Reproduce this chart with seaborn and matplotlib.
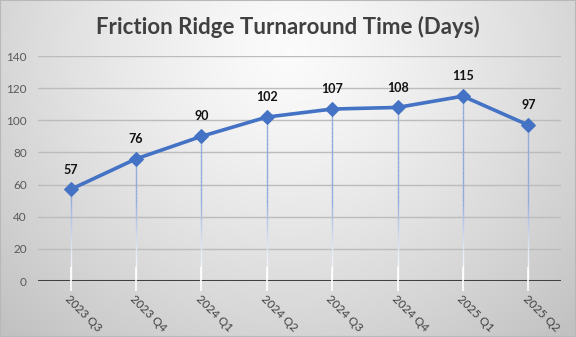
import numpy as np
import pandas as pd
import matplotlib
matplotlib.use("Agg")
import matplotlib.pyplot as plt
from matplotlib.collections import LineCollection
import seaborn as sns

quarters = ["2023 Q3", "2023 Q4", "2024 Q1", "2024 Q2", "2024 Q3", "2024 Q4", "2025 Q1", "2025 Q2"]
days = [57, 76, 90, 102, 107, 108, 115, 97]
y_ticks = [0, 20, 40, 60, 80, 100, 120, 140]
title = "Friction Ridge Turnaround Time (Days)"

df = pd.DataFrame({"quarter": quarters, "days": days})

sns.set_theme(style="white")
plt.rcParams["font.family"] = ["Lato", "DejaVu Sans"]

W, H = 576, 337
fig = plt.figure(figsize=(W / 100, H / 100), dpi=100)

# radial grey gradient behind everything
bg = fig.add_axes([0, 0, 1, 1], zorder=-10)
yy, xx = np.mgrid[0:H, 0:W]
cx, cy = W * 0.5, H * 0.15
r = np.sqrt(((xx - cx) / (W * 0.62)) ** 2 + ((yy - cy) / (H * 1.0)) ** 2)
shade = np.clip(0.985 - 0.19 * r ** 1.3, 0.76, 1.0)
bg.imshow(np.dstack([shade] * 3), aspect="auto", extent=[0, 1, 0, 1], origin="upper")
bg.set_axis_off()
bg.add_patch(plt.Rectangle((0, 0), 1, 1, transform=bg.transAxes, fill=False,
                           edgecolor="#b8b8b8", linewidth=1.5))

ax = fig.add_axes([38 / W, 1 - 281 / H, (561 - 38) / W, (281 - 56) / H])
ax.set_facecolor("none")

line_color = "#4472C4"

# fading drop lines from each point down to the axis
c_top = np.array(matplotlib.colors.to_rgb("#8fa9dc"))
c_bot = np.array([1.0, 1.0, 1.0])
for i, v in enumerate(days):
    n = 40
    ys = np.linspace(0, v, n + 1)
    segs = [[(i, ys[k]), (i, ys[k + 1])] for k in range(n)]
    frac = np.clip((ys[:-1] + ys[1:]) / 2 / 50.0, 0, 1) ** 1.4
    cols = [tuple(c_bot * (1 - f) + c_top * f) for f in frac]
    ax.add_collection(LineCollection(segs, colors=cols, linewidths=1.0, zorder=2))

sns.lineplot(data=df, x="quarter", y="days", ax=ax, color=line_color, linewidth=2.6,
             marker="D", markersize=7.5, markeredgecolor=line_color, zorder=5, sort=False)

for i, v in enumerate(days):
    ax.annotate(str(v), (i, v), xytext=(0, 10), textcoords="offset points",
                ha="center", va="bottom", fontsize=9, fontweight="bold", color="#111111")

ax.set_xlim(-0.5, len(quarters) - 0.5)
ax.set_ylim(0, 140)
ax.set_yticks(y_ticks)
ax.set_yticklabels([str(t) for t in y_ticks])
for t in y_ticks[1:]:
    ax.axhline(t, color="#bcbcbc", linewidth=1.0, zorder=1)
ax.axhline(0, color="#404040", linewidth=2.2, zorder=3)

ax.set_xticks(range(len(quarters)))
ax.set_xticklabels(quarters, rotation=-45, ha="left", va="top", rotation_mode="anchor")
ax.tick_params(axis="x", length=0, pad=9, labelsize=8.5, labelcolor="#404040")
ax.tick_params(axis="y", length=0, pad=8, labelsize=8.5, labelcolor="#595959")
ax.set_xlabel("")
ax.set_ylabel("")
for s in ax.spines.values():
    s.set_visible(False)

# small white category ticks crossing the axis
for i in range(len(quarters)):
    ax.plot([i, i], [-6, 9], color="white", linewidth=1.2, zorder=4, clip_on=False,
            solid_capstyle="butt")

fig.text(0.5, 1 - 27 / H, title, ha="center", va="center", fontsize=16,
         fontweight="bold", color="#404040")

fig.savefig("out.png", dpi=100)
